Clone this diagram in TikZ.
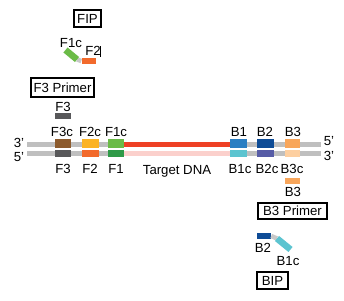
\documentclass[tikz,border=0pt]{standalone}
\usepackage{fontspec}
\setmainfont{Liberation Sans}
\definecolor{strand}{HTML}{BFBFBF}
\definecolor{link}{HTML}{C8C8C8}
\definecolor{cF3}{HTML}{58585A}
\definecolor{cF3c}{HTML}{8D5B2D}
\definecolor{cF2c}{HTML}{FBB324}
\definecolor{cF2}{HTML}{F26A2C}
\definecolor{cF1c}{HTML}{6BBB47}
\definecolor{cF1}{HTML}{2F9A48}
\definecolor{cRed}{HTML}{EE4024}
\definecolor{cPink}{HTML}{FBD0CC}
\definecolor{cB1}{HTML}{2A7EC2}
\definecolor{cB1c}{HTML}{5CC4D0}
\definecolor{cB2}{HTML}{0E4C96}
\definecolor{cB2c}{HTML}{575CA6}
\definecolor{cB3}{HTML}{F8A65B}
\definecolor{cB3c}{HTML}{FDCFA0}
\begin{document}
\begin{tikzpicture}[x=1pt,y=-1pt,
  lbl/.style={font=\fontsize{13.2}{15}\selectfont, inner sep=0pt},
  tagbox/.style={draw, line width=1.3pt, inner sep=0pt, font=\fontsize{13.2}{15}\selectfont},
  seg/.style={inner sep=0pt, minimum height=#1},
  seg/.default=8pt,
  strandbar/.style={inner sep=0pt, minimum height=5.5pt, fill=strand},
  slant/.style={line width=6.5pt, line cap=butt}]
\useasboundingbox (0,0) rectangle (344,300);
\fill[white] (0,0) rectangle (344,300);

% ---- FIP ----
\node[tagbox, minimum width=27pt, minimum height=17pt] (fip) at (87.5,18.5) {FIP};
\node[lbl] (fipF1cl) at (71,43) {F1c};
\node[lbl] (fipF2l) at (93,51) {F2};
\draw[line width=0.6pt] (100.5,46) -- (100.5,57);
\coordinate (g1) at (65.5,50);
\coordinate (g2) at (77,59.5);
\node[seg=6pt, minimum width=14pt, fill=cF2] (fipF2) at (88.5,61) {};
\draw[link, line width=4.5pt] (g2) -- (fipF2.west);
\draw[cF1c, slant] (g1) -- (g2);

% ---- F3 primer ----
\node[tagbox, minimum width=63pt, minimum height=19pt] (f3p) at (62.5,87.5) {F3 Primer};
\node[lbl] (f3pl) at (63,107) {F3};
\node[seg=6pt, minimum width=16pt, fill=cF3] (f3pbar) at (63,116) {};

% ---- strands ----
\node[strandbar, minimum width=294pt] (top) at (174,144.5) {};
\node[strandbar, minimum width=294pt] (bot) at (174,153.4) {};
\node[inner sep=0pt, minimum height=5.5pt, minimum width=106pt, fill=cRed] (redtop) at (177,144.5) {};
\node[inner sep=0pt, minimum height=5.5pt, minimum width=106pt, fill=cPink] (redbot) at (177,153.4) {};

\node[lbl] (l3a) at (19,143) {3\textquoteright};
\node[lbl] (l5a) at (19,157) {5\textquoteright};
\node[lbl] (r5) at (329,141) {5\textquoteright};
\node[lbl] (r3) at (329,156) {3\textquoteright};

% top segments
\node[seg=8.5pt, minimum width=16pt, fill=cF3c] (F3c) at (63,143.3) {};
\node[seg=8.5pt, minimum width=17pt, fill=cF2c] (F2c) at (90.5,143.3) {};
\node[seg=8.5pt, minimum width=16pt, fill=cF1c] (F1c) at (116,143.3) {};
\node[seg=8.5pt, minimum width=17pt, fill=cB1] (B1) at (238.5,143.3) {};
\node[seg=8.5pt, minimum width=17pt, fill=cB2] (B2) at (265.5,143.3) {};
\node[seg=8.5pt, minimum width=15pt, fill=cB3] (B3) at (292.5,143.3) {};
% bottom segments
\node[seg=7.5pt, minimum width=16pt, fill=cF3] (F3) at (63,153.5) {};
\node[seg=7.5pt, minimum width=17pt, fill=cF2] (F2) at (90.5,153.5) {};
\node[seg=7.5pt, minimum width=16pt, fill=cF1] (F1) at (116,153.5) {};
\node[seg=7.5pt, minimum width=17pt, fill=cB1c] (B1c) at (238.5,153.5) {};
\node[seg=7.5pt, minimum width=17pt, fill=cB2c] (B2c) at (265.5,153.5) {};
\node[seg=7.5pt, minimum width=15pt, fill=cB3c] (B3c) at (292.5,153.5) {};

% labels above / below
\node[lbl] at (62,132) {F3c};
\node[lbl] at (90,132) {F2c};
\node[lbl] at (116,132) {F1c};
\node[lbl] at (239,132) {B1};
\node[lbl] at (265,132) {B2};
\node[lbl] at (293,132) {B3};
\node[lbl] at (63,169) {F3};
\node[lbl] at (90,169) {F2};
\node[lbl] at (116,169) {F1};
\node[lbl] (tdna) at (177,171) {Target DNA};
\node[lbl] at (240,169) {B1c};
\node[lbl] at (267,169) {B2c};
\node[lbl] at (292,169) {B3c};

% ---- B3 primer ----
\node[seg=6pt, minimum width=15pt, fill=cB3] (b3pbar) at (292.5,181) {};
\node[lbl] (b3pl) at (293,192) {B3};
\node[tagbox, minimum width=69pt, minimum height=16pt] (b3p) at (292.5,211) {B3 Primer};

% ---- BIP ----
\node[seg=6pt, minimum width=14pt, fill=cB2] (bipB2) at (264,236) {};
\coordinate (c1) at (277,238.5);
\coordinate (c2) at (290.5,249.5);
\draw[link, line width=4.5pt] (bipB2.east) -- (c1);
\draw[cB1c, slant] (c1) -- (c2);
\node[lbl] (bipB2l) at (263,248) {B2};
\node[lbl] (bipB1cl) at (288,261) {B1c};
\node[tagbox, minimum width=31pt, minimum height=17pt] (bip) at (272.5,280.5) {BIP};
\end{tikzpicture}
\end{document}
